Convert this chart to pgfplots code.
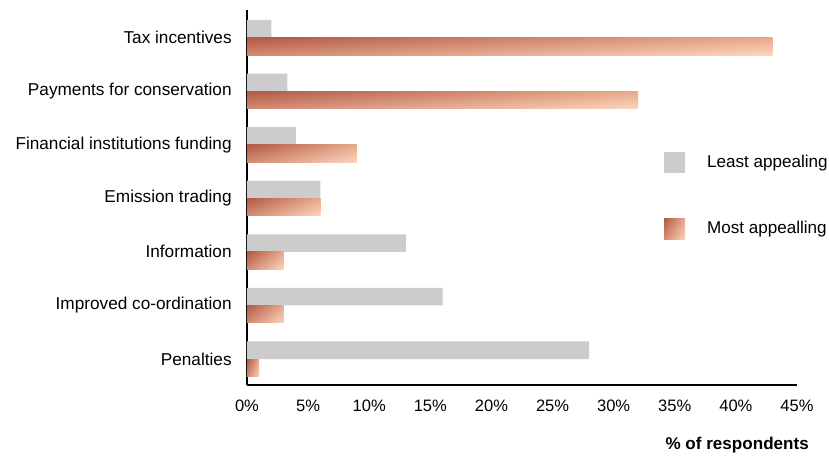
\documentclass[border=0pt]{standalone}
\usepackage{fontspec}
\setmainfont{Liberation Sans}
\usepackage{pgfplots}
\pgfplotsset{compat=1.18}
\usetikzlibrary{shadings}
\definecolor{lgrey}{HTML}{CCCCCC}
\definecolor{gUL}{HTML}{B25846}
\definecolor{gUR}{HTML}{E8AA8A}
\definecolor{gLL}{HTML}{D28C72}
\definecolor{gLR}{HTML}{FCD5BE}
\pgfplotsset{mostbar/.style={draw=none, upper left=gUL, upper right=gUR, lower left=gLL, lower right=gLR, bar shift=-0.1635}}
\begin{document}
\begin{tikzpicture}
\begin{axis}[
  at={(0,0)}, anchor=south west,
  scale only axis,
  width=412.5pt, height=281.25pt,
  xmin=0, xmax=45,
  ymin=-0.485, ymax=6.513,
  axis x line*=bottom, axis y line*=left,
  axis line style={line width=1.6pt, -},
  major tick length=0pt,
  xtick={0,5,...,45},
  xticklabel={\pgfmathprintnumber{\tick}\%},
  /pgf/number format/assume math mode=true,
  ytick={0,1,2,3,4,5,6},
  yticklabels={Penalties, Improved co-ordination, Information, Emission trading, Financial institutions funding, Payments for conservation, Tax incentives},
  xticklabel style={yshift=-8pt, font=\fontsize{12.4}{14}\selectfont},
  yticklabel style={xshift=-8pt, font=\fontsize{12.9}{15}\selectfont},
  xlabel={\textbf{\% of respondents}},
  xlabel style={at={(axis description cs:1.03,-0.16)}, anchor=east, font=\fontsize{12.8}{15}\selectfont},
  xbar, bar width=0.327,
  legend style={draw=none, fill=none, at={(axis description cs:0.758,0.622)}, anchor=north west,
    font=\fontsize{12.8}{15}\selectfont, row sep=33.75pt, column sep=14.5pt, inner sep=0pt},
  legend cell align=left,
  clip=false,
]
\addplot[draw=none, fill=lgrey, bar shift=0.1635,
  legend image code/.code={\path[fill=lgrey] (0pt,-7.9pt) rectangle (15.75pt,7.9pt);}]
  coordinates {(28,0) (16,1) (13,2) (6,3) (4,4) (3.3,5) (2,6)};
\addlegendentry{Least appealing}
\addplot[mostbar,
  legend image code/.code={\path[upper left=gUL, upper right=gUR, lower left=gLL, lower right=gLR] (0pt,-7.9pt) rectangle (15.75pt,7.9pt);}]
  coordinates {(43,6)};
\addlegendentry{Most appealling}
\addplot[mostbar, forget plot] coordinates {(32,5)};
\addplot[mostbar, forget plot] coordinates {(9,4)};
\addplot[mostbar, forget plot] coordinates {(6,3)};
\addplot[mostbar, forget plot] coordinates {(3,2)};
\addplot[mostbar, forget plot] coordinates {(3,1)};
\addplot[mostbar, forget plot] coordinates {(1,0)};
\end{axis}
\pgfresetboundingbox
\path (-185.25pt,-53.25pt) rectangle (436.5pt,288.75pt);
\end{tikzpicture}
\end{document}
